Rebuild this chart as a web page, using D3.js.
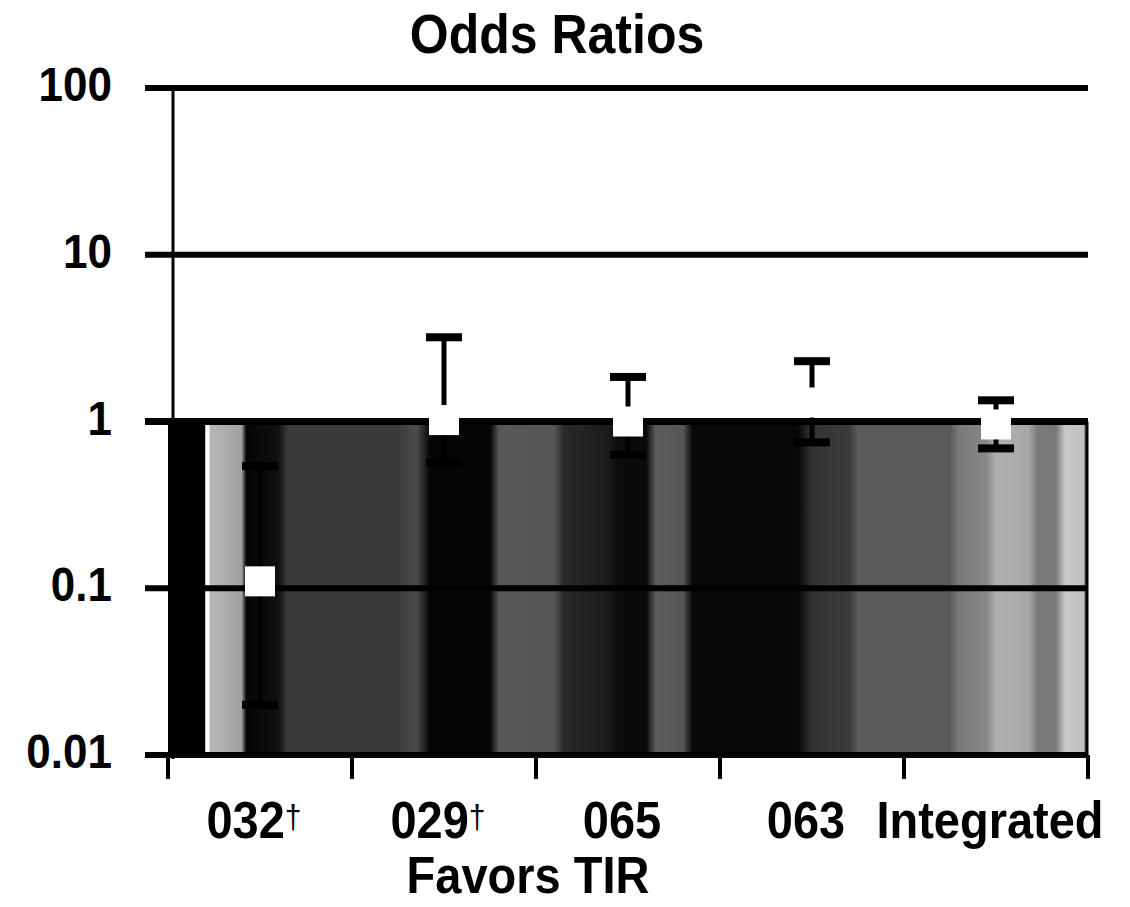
<!DOCTYPE html>
<html>
<head>
<meta charset="utf-8">
<script src="https://cdn.jsdelivr.net/npm/d3@7"></script>
<style>
  body { margin: 0; background: #fff; }
  text { font-family: "Liberation Sans", Arial, sans-serif; font-weight: bold; fill: #000; }
</style>
</head>
<body>
<svg width="1130" height="907"></svg>
<script>
// trial labels and odds ratios
const trials = ["032", "029", "065", "063", "Integrated"];
const dagger = [true, true, false, false, false];
const oddsRatio = [0.11, 1.02, 1.0, 1.3, 0.96];
const lowerCI = [0.02, 0.57, 0.63, 0.75, 0.69];
const upperCI = [0.54, 3.2, 1.85, 2.3, 1.34];
const yTicks = [100, 10, 1, 0.1, 0.01];
const yTickLabels = ["100", "10", "1", "0.1", "0.01"];

const svg = d3.select("svg");
const margin = {top: 88, left: 168, right: 42, bottom: 152};
const width = +svg.attr("width") - margin.left - margin.right,
    height = +svg.attr("height") - margin.top - margin.bottom;

const x = d3.scaleBand().domain(trials).range([margin.left, margin.left + width]);
const y = d3.scaleLog().domain([0.01, 100]).range([margin.top + height, margin.top]);

// the printed type is a bit taller than Liberation Sans, so stretch it a little
const stretch = 1.1;
function place(px, py) { return "translate(" + px + "," + py + ") scale(1," + stretch + ")"; }

// shaded "favors TIR" area, uneven like the scanned fill
const grad = svg.append("defs").append("linearGradient")
    .attr("id", "shade")
    .attr("x1", 0).attr("x2", 1).attr("y1", 0).attr("y2", 0);
const stops = [
  [0, "#000"], [0.04, "#000"], [0.041, "#fff"], [0.044, "#fff"], [0.046, "#b8b8b8"],
  [0.08, "#a0a0a0"], [0.085, "#050505"], [0.12, "#101010"], [0.13, "#3a3a3a"],
  [0.25, "#3a3a3a"], [0.27, "#4d4d4d"], [0.285, "#050505"], [0.35, "#050505"],
  [0.36, "#585858"], [0.42, "#555"], [0.43, "#2a2a2a"], [0.48, "#1a1a1a"],
  [0.49, "#0a0a0a"], [0.52, "#0a0a0a"], [0.53, "#5c5c5c"], [0.56, "#555"],
  [0.57, "#080808"], [0.685, "#080808"], [0.7, "#333"], [0.74, "#3a3a3a"],
  [0.75, "#5a5a5a"], [0.85, "#5a5a5a"], [0.86, "#7a7a7a"], [0.89, "#888"],
  [0.9, "#b0b0b0"], [0.935, "#a8a8a8"], [0.945, "#7a7a7a"], [0.965, "#777"],
  [0.975, "#c8c8c8"], [0.995, "#c0c0c0"], [1, "#000"]
];
grad.selectAll("stop").data(stops).enter().append("stop")
    .attr("offset", d => d[0]).attr("stop-color", d => d[1]);

svg.append("rect")
    .attr("x", margin.left)
    .attr("y", y(1))
    .attr("width", width)
    .attr("height", y(0.01) - y(1))
    .attr("fill", "url(#shade)");

// heavy horizontal gridlines
svg.append("g").selectAll("line")
    .data(yTicks)
    .enter().append("line")
    .attr("x1", 145).attr("x2", margin.left + width)
    .attr("y1", d => y(d)).attr("y2", d => y(d))
    .attr("stroke", "#000")
    .attr("stroke-width", d => d === 1 ? 7 : 6);

// y axis line
svg.append("line")
    .attr("x1", 173).attr("x2", 173)
    .attr("y1", y(100)).attr("y2", y(0.01) + 4)
    .attr("stroke", "#000").attr("stroke-width", 3);

// right edge of the shaded area
svg.append("line")
    .attr("x1", margin.left + width - 1).attr("x2", margin.left + width - 1)
    .attr("y1", y(1)).attr("y2", y(0.01))
    .attr("stroke", "#000").attr("stroke-width", 3);

// x axis ticks at band edges
const edges = trials.map(d => x(d)).concat([margin.left + width]);
svg.append("g").selectAll("line")
    .data(edges)
    .enter().append("line")
    .attr("x1", d => d).attr("x2", d => d)
    .attr("y1", y(0.01)).attr("y2", y(0.01) + 24)
    .attr("stroke", "#000").attr("stroke-width", 4);

// error bars
const rows = trials.map((t, i) => ({t: t, or: oddsRatio[i], lo: lowerCI[i], hi: upperCI[i]}));
const eb = svg.append("g").selectAll("g")
    .data(rows)
    .enter().append("g")
    .attr("transform", d => "translate(" + (x(d.t) + x.bandwidth() / 2) + ",0)");
eb.append("line")
    .attr("x1", 0).attr("x2", 0)
    .attr("y1", d => y(d.hi)).attr("y2", d => y(d.lo))
    .attr("stroke", "#000").attr("stroke-width", 5);
eb.append("rect")
    .attr("x", -18).attr("width", 36)
    .attr("y", d => y(d.hi) - 4).attr("height", 8)
    .attr("fill", "#000");
eb.append("rect")
    .attr("x", -18).attr("width", 36)
    .attr("y", d => y(d.lo) - 4).attr("height", 8)
    .attr("fill", "#000");
// point estimates: white squares
eb.append("rect")
    .attr("x", -15).attr("width", 30)
    .attr("y", d => y(d.or) - 15).attr("height", 30)
    .attr("fill", "#fff");

// y tick labels
svg.append("g").selectAll("text")
    .data(yTicks)
    .enter().append("text")
    .attr("transform", d => place(112, y(d) + 13))
    .attr("text-anchor", "end")
    .style("font-size", "44px")
    .text((d, i) => yTickLabels[i]);

// x category labels
const xl = svg.append("g").selectAll("text")
    .data(trials)
    .enter().append("text")
    .attr("transform", d => place(x(d) + x.bandwidth() / 2 - 6, 838))
    .attr("text-anchor", "middle")
    .style("font-size", "47px");
xl.append("tspan").text(d => d);
xl.filter((d, i) => dagger[i]).append("tspan")
    .attr("dy", -9)
    .style("font-size", "30px")
    .style("font-weight", "normal")
    .text("\u2020");

svg.append("text")
    .attr("transform", place(557, 53))
    .attr("text-anchor", "middle")
    .style("font-size", "50px")
    .text("Odds Ratios");

svg.append("text")
    .attr("transform", place(528, 893))
    .attr("text-anchor", "middle")
    .style("font-size", "47px")
    .text("Favors TIR");
</script>
</body>
</html>
